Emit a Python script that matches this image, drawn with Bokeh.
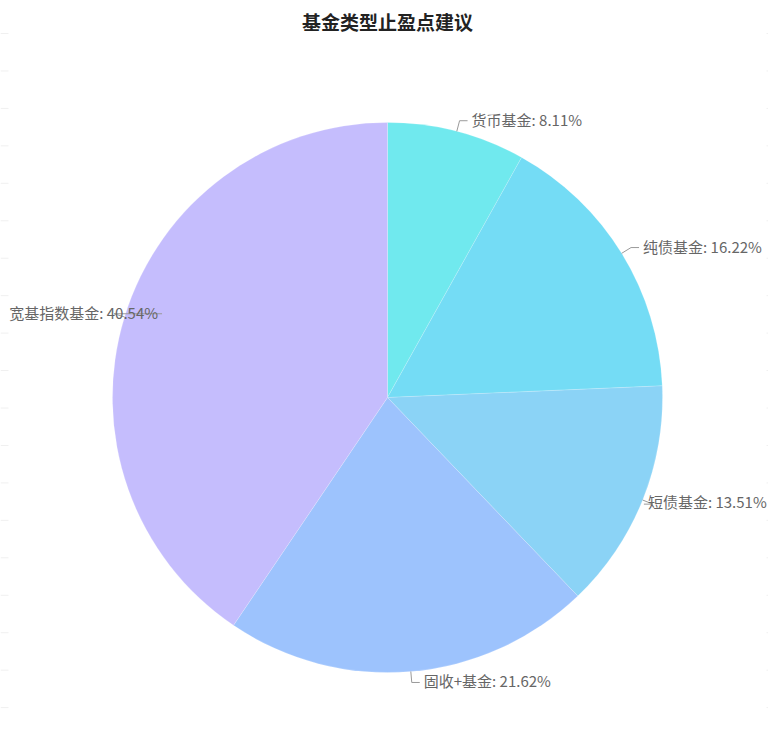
import math
from bokeh.plotting import figure
from bokeh.models import Range1d, ColumnDataSource
from bokeh.core.properties import value
from bokeh.embed import file_html
from bokeh.resources import INLINE

# ---- data ----
title_text = "基金类型止盈点建议"
categories = ["货币基金", "纯债基金", "短债基金", "固收+基金", "宽基指数基金"]
counts = [3, 6, 5, 8, 15]
colors = ["#70e9ee", "#74dcf5", "#8bd3f6", "#9dc3fd", "#c5bdfd"]

# ---- layout constants (pixels) ----
W, H = 768, 735
CX, CY, R = 387, 397, 275
LEAD1, LEAD2, GAP = 11, 8, 4
label_dx = [0, 0, -17, 0, 56]
label_dy = [-1.5, -1.5, -2.5, -1.5, -1.5]
FONT = "Noto Sans CJK SC"


def sy(y):
    return H - y   # screen y -> data y


p = figure(width=W, height=H, output_backend="svg", toolbar_location=None,
           x_range=Range1d(0, W), y_range=Range1d(0, H),
           min_border=0, outline_line_color=None, background_fill_color="white")
p.axis.visible = False
p.grid.visible = False

# faint edge lines
gy = [33 + 37.45 * k for k in range(20)]
p.segment(x0=[0] * len(gy), x1=[8] * len(gy), y0=[sy(v) for v in gy], y1=[sy(v) for v in gy],
          line_color="#f0f0f0", line_width=1)
p.segment(x0=[766] * len(gy), x1=[784] * len(gy), y0=[sy(v) for v in gy], y1=[sy(v) for v in gy],
          line_color="#f0f0f0", line_width=1)

total = sum(counts)
starts, ends, mids = [], [], []
acc = 0
for c in counts:
    f0 = acc / total
    acc += c
    f1 = acc / total
    starts.append(math.pi / 2 - f0 * 2 * math.pi)
    ends.append(math.pi / 2 - f1 * 2 * math.pi)
    mids.append((f0 + f1) / 2 * 2 * math.pi)  # clockwise from top

src = ColumnDataSource(dict(x=[CX] * len(counts), y=[sy(CY)] * len(counts),
                            start=starts, end=ends, color=colors))
p.wedge(x="x", y="y", radius=R, radius_units="data", start_angle="start", end_angle="end",
        direction="clock", fill_color="color", line_color="white", line_alpha=0.35,
        line_width=0.5, source=src)

# labels with leader lines
for i, (cat, c) in enumerate(zip(categories, counts)):
    a = mids[i]
    s, co = math.sin(a), math.cos(a)
    ex, ey = CX + R * s, CY - R * co
    px2, py2 = CX + (R + LEAD1) * s, CY - (R + LEAD1) * co
    side = 1 if s >= 0 else -1
    px3 = px2 + side * LEAD2 + label_dx[i]
    p.line([ex, px2, px3], [sy(ey), sy(py2), sy(py2)], line_color="#9a9a9a", line_width=1)
    pct = f"{c / total * 100:.2f}%"
    p.text(x=[px3 + side * GAP], y=[sy(py2 + label_dy[i])], text=[f"{cat}: {pct}"],
           text_font=value(FONT), text_font_size="15px", text_color="#666666",
           text_align="left" if side > 0 else "right", text_baseline="middle")

# title
p.text(x=[CX], y=[sy(21)], text=[title_text], text_font=value(FONT), text_font_size="19px",
       text_font_style="bold", text_color="#222222", text_align="center", text_baseline="middle")

open("out.html", "w").write(file_html(p, INLINE))
